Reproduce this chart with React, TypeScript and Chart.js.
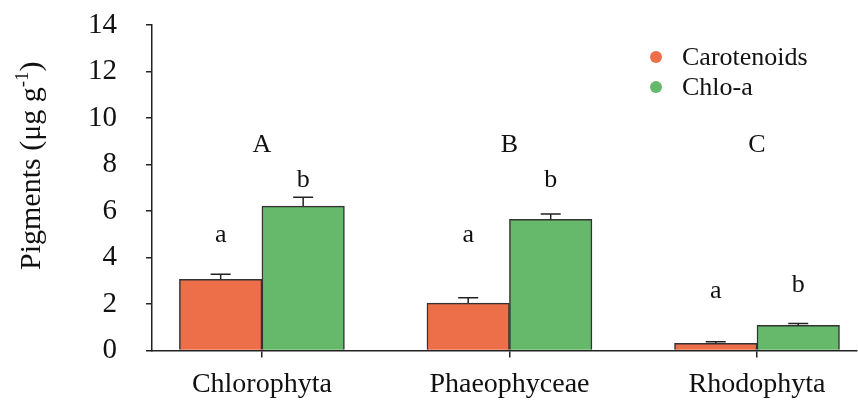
import React, { useEffect, useRef } from "react";
import { Chart, registerables } from "chart.js";

Chart.register(...registerables);

const categories = ["Chlorophyta", "Phaeophyceae", "Rhodophyta"];
const seriesNames = ["Carotenoids", "Chlo-a"];
const carotenoids = [3.06, 2.04, 0.31];
const carotenoidsErr = [0.22, 0.23, 0.07];
const chloA = [6.21, 5.64, 1.08];
const chloAErr = [0.38, 0.23, 0.08];
const carotenoidsLetters = ["a", "a", "a"];
const chloALetters = ["b", "b", "b"];
const groupLetters = ["A", "B", "C"];
const carotenoidsLetterY = [4.66, 4.66, 2.26];
const chloALetterY = [7.03, 7.03, 2.52];
const groupLetterY = [8.54, 8.54, 8.54];
const yTicks = [0, 2, 4, 6, 8, 10, 12, 14];

const ORANGE = "rgb(237,111,74)";
const GREEN = "rgb(102,185,106)";
const AXIS = "#222";
const FONT = "'Liberation Serif', 'Times New Roman', serif";

const values = [carotenoids, chloA];
const errors = [carotenoidsErr, chloAErr];
const seriesLetters = [carotenoidsLetters, chloALetters];
const seriesLetterY = [carotenoidsLetterY, chloALetterY];
const colors = [ORANGE, GREEN];

const errorBarsPlugin = {
  id: "errorBars",
  afterDatasetsDraw(chart: any) {
    const ctx = chart.ctx;
    const y = chart.scales.y;
    ctx.save();
    ctx.strokeStyle = AXIS;
    ctx.lineWidth = 1.5;
    values.forEach((vals, di) => {
      const meta = chart.getDatasetMeta(di);
      meta.data.forEach((bar: any, i: number) => {
        const base = y.getPixelForValue(vals[i]);
        const top = y.getPixelForValue(vals[i] + errors[di][i]);
        ctx.beginPath();
        ctx.moveTo(bar.x, base);
        ctx.lineTo(bar.x, top);
        ctx.moveTo(bar.x - 10, top);
        ctx.lineTo(bar.x + 10, top);
        ctx.stroke();
      });
    });
    ctx.restore();
  },
};

const lettersPlugin = {
  id: "letters",
  afterDatasetsDraw(chart: any) {
    const ctx = chart.ctx;
    const y = chart.scales.y;
    const x = chart.scales.x;
    ctx.save();
    ctx.fillStyle = "#111";
    ctx.font = `26px ${FONT}`;
    ctx.textAlign = "center";
    ctx.textBaseline = "alphabetic";
    seriesLetters.forEach((letters, di) => {
      const meta = chart.getDatasetMeta(di);
      meta.data.forEach((bar: any, i: number) => {
        ctx.fillText(letters[i], bar.x, y.getPixelForValue(seriesLetterY[di][i]));
      });
    });
    groupLetters.forEach((l, i) => {
      ctx.fillText(l, x.getPixelForValue(i), y.getPixelForValue(groupLetterY[i]));
    });
    ctx.restore();
  },
};

const legendPlugin = {
  id: "customLegend",
  afterDraw(chart: any) {
    const ctx = chart.ctx;
    const a = chart.chartArea;
    ctx.save();
    ctx.font = `26px ${FONT}`;
    ctx.textAlign = "left";
    ctx.textBaseline = "middle";
    seriesNames.forEach((name, i) => {
      const cy = a.top + 32 + i * 30;
      const cx = a.right - 201;
      ctx.fillStyle = colors[i];
      ctx.beginPath();
      ctx.arc(cx, cy, 6, 0, Math.PI * 2);
      ctx.fill();
      ctx.fillStyle = "#111";
      ctx.fillText(name, cx + 26, cy + 1);
    });
    ctx.restore();
  },
};

const titlePlugin = {
  id: "yTitle",
  afterDraw(chart: any) {
    const ctx = chart.ctx;
    const a = chart.chartArea;
    ctx.save();
    ctx.translate(40, (a.top + a.bottom) / 2 - 22);
    ctx.rotate(-Math.PI / 2);
    ctx.fillStyle = "#111";
    const big = `30px ${FONT}`;
    const small = `19px ${FONT}`;
    const p1 = "Pigments (\u03bcg g";
    const p2 = "-1";
    const p3 = ")";
    ctx.font = big;
    const w1 = ctx.measureText(p1).width;
    const w3 = ctx.measureText(p3).width;
    ctx.font = small;
    const w2 = ctx.measureText(p2).width;
    const total = w1 + w2 + w3;
    let xx = -total / 2;
    ctx.textBaseline = "alphabetic";
    ctx.textAlign = "left";
    ctx.font = big;
    ctx.fillText(p1, xx, 0);
    xx += w1;
    ctx.font = small;
    ctx.fillText(p2, xx, -12);
    xx += w2;
    ctx.font = big;
    ctx.fillText(p3, xx, 0);
    ctx.restore();
  },
};

export default function App() {
  const ref = useRef<HTMLCanvasElement | null>(null);
  useEffect(() => {
    if (!ref.current) return;
    const chart = new Chart(ref.current, {
      type: "bar",
      data: {
        datasets: values.map((vals, di) => ({
          label: seriesNames[di],
          data: vals.map((v, i) => ({ x: i, y: v })),
          backgroundColor: colors[di],
          borderColor: "#333",
          borderWidth: 1.5,
          barThickness: 82.5,
        })),
      },
      options: {
        animation: false,
        responsive: true,
        maintainAspectRatio: false,
        layout: { padding: { top: 25, right: 1, left: 0, bottom: 0 } },
        plugins: { legend: { display: false }, tooltip: { enabled: false } },
        scales: {
          x: {
            type: "linear",
            offset: false,
            grace: 0,
            min: -0.444,
            max: 2.404,
            afterBuildTicks: (s: any) => {
              s.ticks = categories.map((_, i) => ({ value: i }));
            },
            afterFit: (s: any) => {
              s.height = 50.5;
              s.paddingLeft = 0;
              s.paddingRight = 0;
            },
            ticks: {
              callback: (v: any) => categories[v] ?? "",
              color: "#111",
              font: { family: FONT, size: 28 },
              padding: 10,
              maxRotation: 0,
              autoSkip: false,
            },
            grid: { display: true, offset: false, drawOnChartArea: false, drawTicks: true, tickLength: 7, color: AXIS, lineWidth: 1.5 },
            border: { display: true, color: AXIS, width: 1.5 },
          },
          y: {
            min: 0,
            max: 14,
            afterBuildTicks: (s: any) => {
              s.ticks = yTicks.map((v) => ({ value: v }));
            },
            afterFit: (s: any) => {
              s.width = 152;
              s.paddingTop = 0;
              s.paddingBottom = 0;
            },
            ticks: {
              color: "#111",
              font: { family: FONT, size: 29 },
              padding: 29,
            },
            grid: { display: true, drawOnChartArea: false, drawTicks: true, tickLength: 6, color: AXIS, lineWidth: 1.5 },
            border: { display: true, color: AXIS, width: 1.5 },
          },
        },
      },
      plugins: [errorBarsPlugin, lettersPlugin, legendPlugin, titlePlugin],
    } as any);
    return () => chart.destroy();
  }, []);
  return (
    <div style={{ position: "fixed", left: 0, top: 0, width: 858, height: 401, background: "#fff" }}>
      <canvas ref={ref} />
    </div>
  );
}
